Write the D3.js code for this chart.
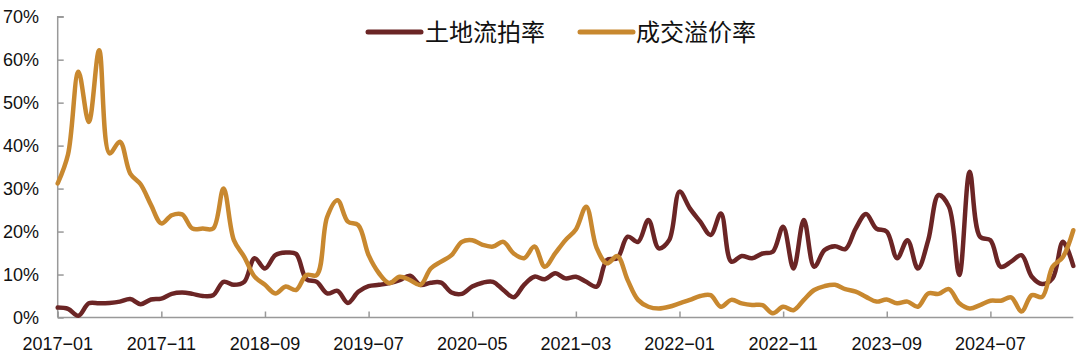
<!DOCTYPE html>
<html>
<head>
<meta charset="utf-8">
<script src="https://cdn.jsdelivr.net/npm/d3@7"></script>
<style>
  html, body { margin: 0; padding: 0; background: #fff; }
  svg { display: block; }
</style>
</head>
<body>
<svg id="chart" width="1080" height="361"></svg>
<script>
// ---- Data ----
// monthly categories 2017-01 .. 2025-03
const categories = d3.timeMonth.range(new Date(2017, 0, 1), new Date(2025, 3, 1)).map(d3.timeFormat("%Y-%m"));
const tickLabels = ["2017-01", "2017-11", "2018-09", "2019-07", "2020-05", "2021-03", "2022-01", "2022-11", "2023-09", "2024-07"];
const yTicks = [0, 10, 20, 30, 40, 50, 60, 70];
const seriesNames = ["土地流拍率", "成交溢价率"];

// 土地流拍率 (%)
const liupai = [
  2.3, 2.0, 0.4, 3.3, 3.3, 3.4, 3.7, 4.3, 3.1, 4.2,
  4.4, 5.5, 5.8, 5.5, 5.0, 5.2, 8.3, 7.6, 8.3, 13.8,
  11.4, 14.5, 15.1, 14.8, 8.9, 8.3, 5.6, 6.2, 3.4, 6.0,
  7.3, 7.6, 8.0, 8.7, 9.7, 7.6, 8.1, 8.1, 5.8, 5.5,
  7.2, 8.1, 8.3, 6.4, 4.7, 7.6, 9.5, 8.9, 10.3, 9.1,
  9.5, 8.3, 7.2, 13.4, 13.8, 18.8, 17.6, 22.7, 16.1, 18.0,
  29.3, 25.4, 22.3, 19.2, 24.2, 13.0, 14.3, 13.8, 14.9, 15.3,
  21.1, 11.4, 22.7, 11.8, 15.7, 16.6, 15.9, 20.7, 24.1, 20.7,
  20.0, 13.8, 18.0, 11.4, 18.0, 28.5, 25.8, 9.9, 33.9, 18.8,
  18.0, 11.8, 13.0, 14.5, 9.5, 7.8, 9.1, 17.6, 12.0
];

// 成交溢价率 (%)
const yijia = [
  31.2, 38.0, 57.2, 45.5, 62.2, 38.2, 40.9, 33.5, 31.0, 26.2,
  21.9, 23.8, 24.0, 20.7, 20.7, 20.7, 30.0, 18.0, 14.1, 9.5,
  7.6, 5.6, 7.2, 6.4, 9.9, 9.9, 23.4, 27.3, 22.3, 21.5,
  14.5, 10.3, 8.0, 9.5, 8.7, 7.6, 11.4, 13.0, 14.5, 17.6,
  18.0, 16.9, 16.5, 17.6, 14.9, 13.8, 16.5, 11.8, 14.9, 18.0,
  20.5, 25.8, 16.2, 12.6, 14.3, 8.7, 4.1, 2.5, 2.1, 2.5,
  3.3, 4.1, 5.0, 5.2, 2.5, 4.1, 3.3, 2.9, 2.9, 1.0,
  2.5, 1.7, 4.1, 6.4, 7.3, 7.6, 6.6, 6.0, 4.8, 3.7,
  4.2, 3.3, 3.7, 2.5, 5.6, 5.5, 6.6, 3.3, 2.1, 2.9,
  3.9, 3.9, 4.7, 1.4, 5.2, 4.8, 11.8, 14.1, 20.3
];

const colors = ["#6B2525", "#C8882F"];

// ---- Layout ----
const svg = d3.select("#chart");
const mLeft = 57.7, mRight = 1073.3, mTop = 16.7, mBottom = 317.5;

const x = d3.scalePoint().domain(categories).range([mLeft, mRight]);
const y = d3.scaleLinear().domain([0, 70]).range([mBottom, mTop]);

const axisColor = "#999999";
const fontFamily = "'Liberation Sans', Arial, sans-serif";

// Y axis (ticks point inward)
const yAxis = d3.axisRight(y).tickValues(yTicks).tickSize(6).tickFormat(() => "");
const gy = svg.append("g").attr("transform", `translate(${mLeft},0)`).call(yAxis);
gy.select(".domain").attr("stroke", axisColor).attr("stroke-width", 1.5).attr("d", `M6,${mTop}H0V${mBottom}`);
gy.selectAll(".tick line").attr("stroke", axisColor).attr("stroke-width", 1.5);

svg.append("g").selectAll("text").data(yTicks).join("text")
  .attr("x", 39).attr("y", d => y(d)).attr("dy", "0.36em")
  .attr("text-anchor", "end")
  .attr("font-family", fontFamily).attr("font-size", 18).attr("fill", "#111")
  .text(d => d + "%");

// X axis (ticks point inward / up)
const xAxis = d3.axisTop(x).tickValues(tickLabels).tickSize(6).tickFormat(() => "");
const gx = svg.append("g").attr("transform", `translate(0,${mBottom})`).call(xAxis);
gx.select(".domain").attr("stroke", axisColor).attr("stroke-width", 1.5).attr("d", `M${mLeft},0H${mRight}`);
gx.selectAll(".tick line").attr("stroke", axisColor).attr("stroke-width", 1.5);

svg.append("g").selectAll("text").data(tickLabels).join("text")
  .attr("x", d => x(d)).attr("y", 350)
  .attr("text-anchor", "middle")
  .attr("font-family", fontFamily).attr("font-size", 18).attr("fill", "#111")
  .text(d => d.replace("-", "\u2212"));

// Lines
const line = d3.line()
  .x((d, i) => x(categories[i]))
  .y(d => y(d))
  .curve(d3.curveCatmullRom.alpha(0.5));

[liupai, yijia].forEach((s, k) => {
  svg.append("path").datum(s)
    .attr("d", line)
    .attr("fill", "none")
    .attr("stroke", colors[k])
    .attr("stroke-width", 4.5)
    .attr("stroke-linejoin", "round")
    .attr("stroke-linecap", "round");
});

// Legend
const legendItems = [
  { name: seriesNames[0], color: colors[0], x1: 368, x2: 421, tx: 425 },
  { name: seriesNames[1], color: colors[1], x1: 580, x2: 633, tx: 636 }
];
const lg = svg.append("g");
legendItems.forEach(it => {
  lg.append("line").attr("x1", it.x1).attr("x2", it.x2).attr("y1", 32).attr("y2", 32)
    .attr("stroke", it.color).attr("stroke-width", 5).attr("stroke-linecap", "round");
  lg.append("text").attr("x", it.tx).attr("y", 32).attr("dy", "0.36em")
    .attr("font-family", "'Noto Sans CJK SC', sans-serif").attr("font-size", 24).attr("fill", "#111")
    .text(it.name);
});
</script>
</body>
</html>
